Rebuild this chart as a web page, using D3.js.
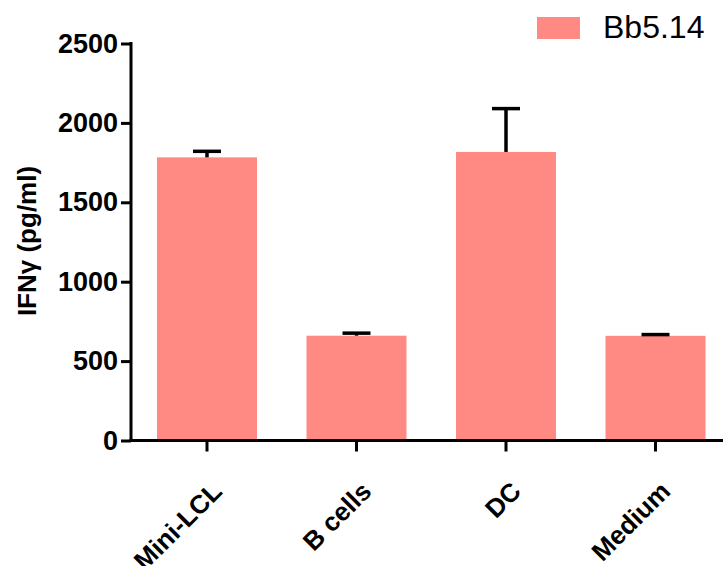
<!DOCTYPE html>
<html><head><meta charset="utf-8">
<script src="https://cdn.jsdelivr.net/npm/d3@7"></script>
<style>body{margin:0;background:#fff;} text{font-family:Arial,"Liberation Sans",sans-serif;}</style>
</head><body>
<svg id="c" width="723" height="566"></svg>
<script>
const categories = ["Mini-LCL", "B cells", "DC", "Medium"];
const values = [1783, 660, 1817, 659];
const errors = [38, 16, 273, 8];
const yTicks = [0, 500, 1000, 1500, 2000, 2500];
const seriesName = "Bb5.14";

const svg = d3.select("#c");
const color = "#FF8A84";
const FF = "Arial, 'Liberation Sans', sans-serif";
const x = d3.scaleBand().domain(categories).range([132.25, 730.25]).paddingInner(0.331).paddingOuter(0.1655);
const y = d3.scaleLinear().domain([0, 2500]).range([440.5, 43.5]);

// bars
svg.selectAll("rect.bar").data(categories).enter().append("rect")
  .attr("x", d => x(d)).attr("width", x.bandwidth())
  .attr("y", (d,i) => y(values[i])).attr("height", (d,i) => y(0) - y(values[i]))
  .attr("fill", color);

// error bars
const eb = svg.append("g").attr("stroke", "#000").attr("stroke-width", 3.5);
categories.forEach((c, i) => {
  const cx = x(c) + x.bandwidth()/2;
  eb.append("line").attr("x1", cx).attr("x2", cx).attr("y1", y(values[i])).attr("y2", y(values[i] + errors[i]));
  eb.append("line").attr("x1", cx - 14).attr("x2", cx + 14).attr("y1", y(values[i] + errors[i])).attr("y2", y(values[i] + errors[i]));
});

// y axis
const ya = svg.append("g").attr("transform", "translate(131,0)")
  .call(d3.axisLeft(y).tickValues(yTicks).tickFormat(d3.format("d")).tickSize(10).tickSizeOuter(0).tickPadding(3));
ya.select(".domain").attr("stroke-width", 3).attr("d", "M0,442V42");
ya.selectAll(".tick line").attr("stroke-width", 3);
ya.selectAll(".tick text").attr("font-size", 27).attr("font-weight", "bold").attr("fill", "#000")
  .attr("font-family", FF);

// x axis
const xa = svg.append("g").attr("transform", "translate(0,440.5)")
  .call(d3.axisBottom(x).tickSize(11).tickSizeOuter(0));
xa.select(".domain").attr("stroke-width", 3).attr("d", "M129.5,0H723");
xa.selectAll(".tick line").attr("stroke-width", 3);
xa.selectAll(".tick text").attr("font-size", 26).attr("font-weight", "bold").attr("fill", "#000")
  .attr("font-family", FF)
  .attr("text-anchor", "end").attr("dy", "0.35em")
  .attr("transform", "translate(10,46) rotate(-45)").attr("y", 0).attr("x", 0);

// y label
svg.append("text").attr("transform", "translate(36,241) rotate(-90)")
  .attr("text-anchor", "middle").attr("font-size", 26).attr("font-weight", "bold")
  .attr("font-family", FF)
  .text("IFNγ (pg/ml)");

// legend
svg.append("rect").attr("x", 537).attr("y", 17).attr("width", 43).attr("height", 22).attr("fill", color);
svg.append("text").attr("x", 603).attr("y", 38).attr("font-size", 32).attr("font-family", FF).text(seriesName);
</script>
</body></html>
